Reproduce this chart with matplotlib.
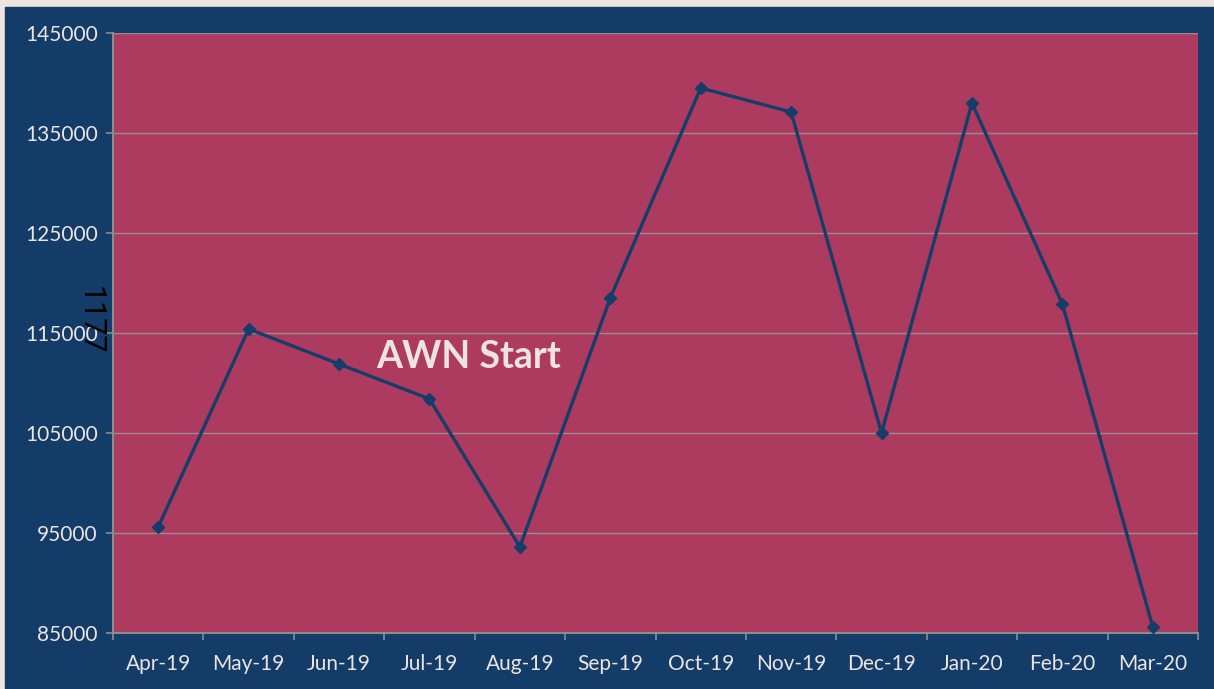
import matplotlib
matplotlib.use("Agg")
import matplotlib.pyplot as plt
import numpy as np
from matplotlib.patches import Rectangle

# ── Data ──────────────────────────────────────────────────────────────────────
months = ["Apr-19", "May-19", "Jun-19", "Jul-19", "Aug-19", "Sep-19",
          "Oct-19", "Nov-19", "Dec-19", "Jan-20", "Feb-20", "Mar-20"]
values = [95600, 115400, 111900, 108400, 93600, 118500,
          139500, 137100, 105000, 138000, 117900, 85600]
y_ticks = [85000, 95000, 105000, 115000, 125000, 135000, 145000]

# ── Colours ───────────────────────────────────────────────────────────────────
BEIGE = "#EDE3DF"
NAVY_BG = "#133C69"
PLOT_BG = "#AD3B5F"
LINE = "#153D69"
GRID = "#9A8A92"
TXT = "#EDE3DF"

plt.rcParams["font.family"] = ["Lato", "DejaVu Sans"]

fig = plt.figure(figsize=(12.14, 6.89), dpi=100, facecolor=BEIGE)
fig.patches.append(Rectangle((5 / 1214, 0), 1, (689 - 7) / 689,
                             transform=fig.transFigure, color=NAVY_BG, zorder=-10))

ax = fig.add_axes([113 / 1214, (689 - 633) / 689, (1198 - 113) / 1214, 600 / 689])
ax.set_facecolor(PLOT_BG)

x = np.arange(len(months))
ax.plot(x, values, color=LINE, lw=2.4, marker="D", ms=6.5, zorder=3, clip_on=False)

ax.set_xlim(-0.5, len(months) - 0.5)
ax.set_ylim(85000, 145000)
ax.set_yticks(y_ticks)
ax.set_yticklabels([str(v) for v in y_ticks], color=TXT, fontsize=15)
ax.set_xticks(x)
ax.set_xticklabels(months, color=TXT, fontsize=15)
ax.tick_params(axis="x", length=0, pad=15)
ax.set_xticks(np.arange(-0.5, len(months)), minor=True)
ax.tick_params(axis="x", which="minor", length=5, color="#8C8C8C", width=1.2)
ax.tick_params(axis="y", length=5, color="#8C8C8C", width=1.2, pad=6)

ax.grid(axis="y", color=GRID, lw=1)
ax.set_axisbelow(True)
for s in ["top", "right"]:
    ax.spines[s].set_visible(False)
for s in ["left", "bottom"]:
    ax.spines[s].set_color("#8C8C8C")
    ax.spines[s].set_linewidth(1.5)

ax.text(3.43, 112600, "AWN Start", color=TXT, fontsize=27, fontweight="bold",
        ha="center", va="center", zorder=4)

fig.text(90 / 1214, 1 - 320 / 689, "1177", rotation=-90, color="black",
         fontsize=22, ha="center", va="center", family=["Roboto", "DejaVu Sans"])

fig.savefig("out.png", dpi=100, facecolor=fig.get_facecolor())
